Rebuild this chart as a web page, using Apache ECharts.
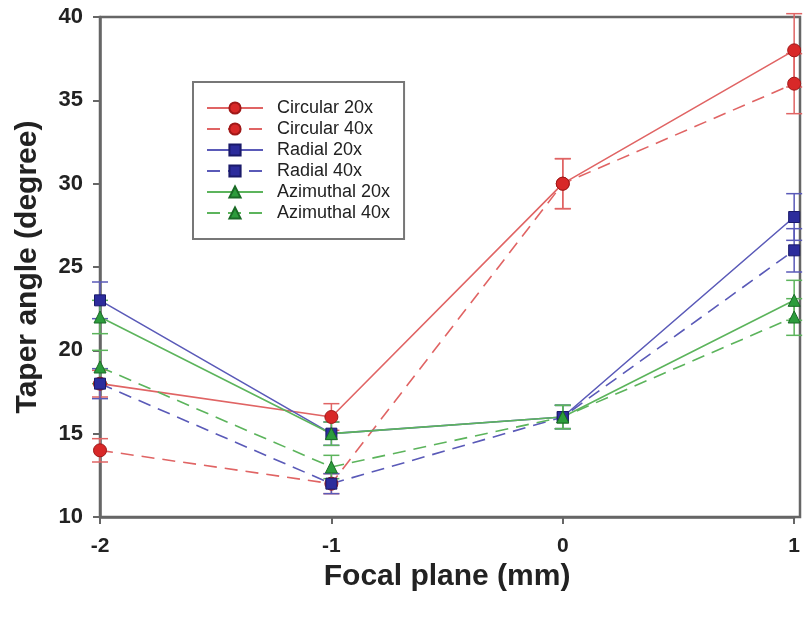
<!DOCTYPE html>
<html lang="en">
<head>
<meta charset="UTF-8">
<title>Taper angle</title>
<script src="https://cdn.jsdelivr.net/npm/echarts@6/dist/echarts.min.js"></script>
<style>
  body, html { padding: 0; margin: 0; background: #fff; }
</style>
</head>
<body>
<div id="chart" style="width:803px;height:620px;"></div>
<script>
var focal = [-2, -1, 0, 1];
var seriesNames = ['Circular 20x', 'Circular 40x', 'Radial 20x', 'Radial 40x', 'Azimuthal 20x', 'Azimuthal 40x'];
var circular20 = [18, 16, 30, 38];
var circular40 = [14, 12, 30, 36];
var radial20 = [23, 15, 16, 28];
var radial40 = [18, 12, 16, 26];
var azimuthal20 = [22, 15, 16, 23];
var azimuthal40 = [19, 13, 16, 22];
// +/- error
var circular20Err = [0.8, 0.8, 1.5, 2.2];
var circular40Err = [0.7, 0.6, 1.5, 1.8];
var radial20Err = [1.1, 0.7, 0.7, 1.4];
var radial40Err = [0.9, 0.6, 0.7, 1.3];
var azimuthal20Err = [1.0, 0.7, 0.7, 1.2];
var azimuthal40Err = [1.0, 0.7, 0.7, 1.1];

var values = [circular20, circular40, radial20, radial40, azimuthal20, azimuthal40];
var errors = [circular20Err, circular40Err, radial20Err, radial40Err, azimuthal20Err, azimuthal40Err];
var lineColors = ['#e06464', '#e06464', '#5a5ab8', '#5a5ab8', '#5cb45c', '#5cb45c'];
var markColors = ['#d82828', '#d82828', '#2c2c9c', '#2c2c9c', '#2c9c3c', '#2c9c3c'];
var markBorders = ['#a01818', '#a01818', '#1a1a6a', '#1a1a6a', '#1a6a26', '#1a6a26'];
var symbols = ['circle', 'circle', 'rect', 'rect', 'triangle', 'triangle'];
var dashed = [false, true, false, true, false, true];

var font = 'Liberation Sans, Arial, sans-serif';
var series = [];
values.forEach(function (vals, i) {
  var errData = focal.map(function (x, j) {
    return [x, vals[j] - errors[i][j], vals[j] + errors[i][j]];
  });
  series.push({
    type: 'custom',
    name: seriesNames[i] + ' err',
    silent: true,
    z: 1,
    data: errData,
    renderItem: function (params, api) {
      var x = api.value(0);
      var lo = api.coord([x, api.value(1)]);
      var hi = api.coord([x, api.value(2)]);
      var w = 8;
      var style = { stroke: lineColors[i], lineWidth: 1.5 };
      return {
        type: 'group',
        children: [
          { type: 'line', shape: { x1: lo[0], y1: lo[1], x2: hi[0], y2: hi[1] }, style: style },
          { type: 'line', shape: { x1: lo[0] - w, y1: lo[1], x2: lo[0] + w, y2: lo[1] }, style: style },
          { type: 'line', shape: { x1: hi[0] - w, y1: hi[1], x2: hi[0] + w, y2: hi[1] }, style: style }
        ]
      };
    }
  });
});
values.forEach(function (vals, i) {
  series.push({
    type: 'line',
    name: seriesNames[i],
    z: 3,
    data: focal.map(function (x, j) { return [x, vals[j]]; }),
    symbol: symbols[i],
    symbolSize: symbols[i] === 'rect' ? 11 : (symbols[i] === 'triangle' ? 12 : 13),
    showAllSymbol: true,
    lineStyle: { color: lineColors[i], width: 1.6, type: dashed[i] ? [13, 8] : 'solid' },
    itemStyle: { color: markColors[i], borderColor: markBorders[i], borderWidth: 1 },
    emphasis: { disabled: true }
  });
});

var axisColor = '#666';
var chart = echarts.init(document.getElementById('chart'));
chart.setOption({
  animation: false,
  backgroundColor: '#fff',
  grid: { left: 100, right: 3, top: 17, bottom: 103 },
  legend: {
    data: seriesNames,
    orient: 'vertical',
    left: 193,
    top: 82,
    padding: [17, 14, 17, 13],
    itemGap: 3,
    itemWidth: 56,
    itemHeight: 14,
    borderColor: '#777',
    borderWidth: 2,
    textStyle: { fontFamily: font, fontSize: 18, color: '#222', padding: [0, 0, 0, 9] }
  },
  xAxis: {
    type: 'value',
    min: -2,
    max: 1,
    interval: 1,
    name: 'Focal plane (mm)',
    nameLocation: 'middle',
    nameGap: 45,
    nameTextStyle: { fontFamily: font, fontSize: 30, fontWeight: 'bold', color: '#222' },
    axisLine: { lineStyle: { color: axisColor, width: 2.5 } },
    axisTick: { inside: false, length: 7, lineStyle: { color: axisColor, width: 2 } },
    axisLabel: { margin: 19, fontFamily: font, fontSize: 21, fontWeight: 'bold', color: '#222' },
    splitLine: { show: false }
  },
  yAxis: {
    type: 'value',
    min: 10,
    max: 40,
    interval: 5,
    name: 'Taper angle (degree)',
    nameLocation: 'middle',
    nameGap: 57,
    nameTextStyle: { fontFamily: font, fontSize: 30, fontWeight: 'bold', color: '#222' },
    axisLine: { onZero: false, lineStyle: { color: axisColor, width: 2.5 } },
    axisTick: { inside: false, length: 7, lineStyle: { color: axisColor, width: 2 } },
    axisLabel: { margin: 17, fontFamily: font, fontSize: 22, fontWeight: 'bold', color: '#222' },
    splitLine: { show: false }
  },
  graphic: [{
    type: 'rect',
    silent: true,
    z: 0,
    shape: { x: 100, y: 17, width: 700, height: 500 },
    style: { fill: 'none', stroke: axisColor, lineWidth: 2.5 }
  }],
  series: series
});
</script>
</body>
</html>
